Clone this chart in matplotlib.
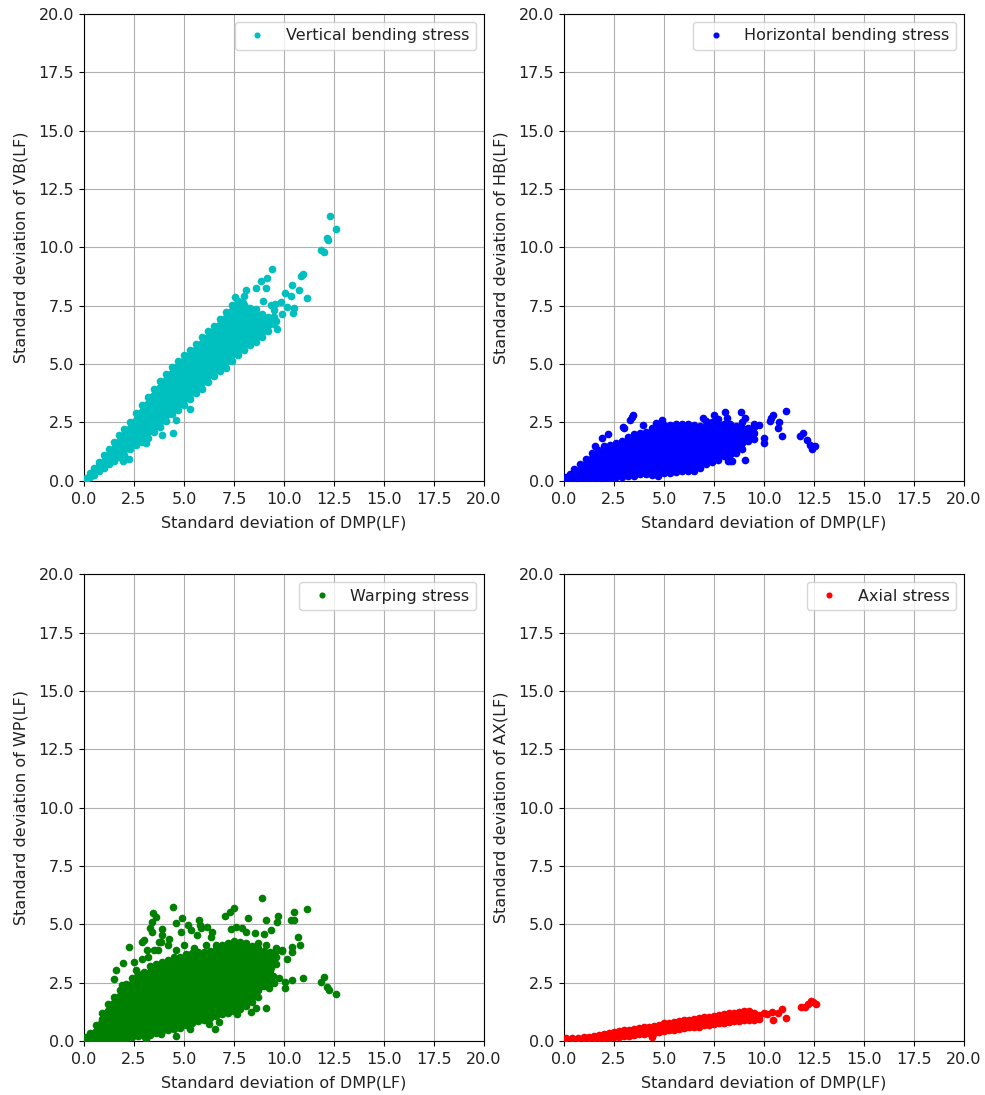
import matplotlib
matplotlib.use('Agg')
import matplotlib.pyplot as plt

plt.rcParams['font.size'] = 11.5
plt.rcParams['text.color'] = '#222222'
plt.rcParams['axes.labelcolor'] = '#222222'
plt.rcParams['xtick.labelcolor'] = '#222222'
plt.rcParams['ytick.labelcolor'] = '#222222'

# std deviations, one list of y values for each x column
vb_cols = [0.1, 0.3, 0.5, 0.75, 1.0, 1.25, 1.5, 1.75, 2.0, 2.3, 2.6, 2.9, 3.2, 3.5, 3.8, 4.1, 4.4, 4.7, 5.0, 5.3, 5.6, 5.9, 6.2, 6.5, 6.8, 7.1, 7.4, 7.7, 8.0, 8.3, 8.6, 8.9, 9.2, 9.5]
vb_rows = [[0.05, 0.12], [0.15, 0.32], [0.25, 0.55], [0.4, 0.65, 0.82], [0.55, 0.85, 1.1], [0.72, 1.0, 1.35], [0.85, 1.2, 1.68], [1.0, 1.35, 1.62, 1.95], [1.1, 1.4, 1.75, 2.22], [1.35, 1.7, 2.0, 2.5], [1.55, 1.85, 2.2, 2.55, 2.9], [1.65, 2.0, 2.4, 2.8, 3.25], [1.85, 2.2, 2.55, 2.95, 3.6], [2.1, 2.5, 2.85, 3.3, 3.68, 3.95], [2.3, 2.7, 3.1, 3.5, 3.85, 4.28], [2.55, 2.9, 3.3, 3.7, 4.1, 4.58], [2.85, 3.2, 3.55, 3.95, 4.3, 4.88], [3.05, 3.4, 3.8, 4.2, 4.6, 5.15], [3.25, 3.65, 4.0, 4.4, 4.8, 5.4], [3.5, 3.85, 4.25, 4.65, 5.05, 5.6], [3.75, 4.1, 4.5, 4.9, 5.3, 5.88], [3.95, 4.3, 4.7, 5.1, 5.55, 6.15], [4.25, 4.6, 5.0, 5.4, 5.85, 6.4], [4.5, 4.85, 5.25, 5.65, 6.05, 6.65], [4.7, 5.05, 5.45, 5.85, 6.3, 6.95], [4.85, 5.25, 5.65, 6.1, 6.6, 7.25], [5.15, 5.5, 5.9, 6.3, 6.8, 7.55], [5.4, 5.75, 6.15, 6.6, 7.05, 7.72], [5.6, 5.95, 6.3, 6.75, 7.2, 7.9], [5.8, 6.15, 6.5, 6.9, 7.4], [5.95, 6.3, 6.6, 7.0, 7.35], [6.15, 6.5, 6.85, 7.15], [6.4, 6.7, 7.0], [6.7, 7.0, 7.3]]
vb_extra_x = [1.97, 2.25, 3.1, 3.9, 4.45, 4.6, 5.3, 7.55, 8.08, 8.58, 8.83, 9.08, 9.17, 9.42, 8.95, 9.33, 9.55, 9.87, 10.05, 10.38, 10.75, 10.33, 11.13, 10.83, 10.95, 10.17, 10.5, 10.47, 9.92, 9.67, 9.58, 11.83, 12.0, 12.17, 12.18, 12.28, 12.58]
vb_extra_y = [0.83, 0.93, 1.6, 1.97, 2.04, 2.6, 3.09, 7.87, 8.19, 8.26, 8.57, 8.26, 8.69, 9.07, 7.69, 7.54, 7.58, 7.64, 8.04, 8.37, 8.19, 7.9, 7.83, 8.79, 8.87, 7.44, 7.4, 7.19, 7.16, 6.5, 6.83, 9.87, 9.8, 10.4, 10.3, 11.33, 10.79]

hb_cols = [0.1, 0.3, 0.5, 0.8, 1.1, 1.4, 1.7, 2.0, 2.3, 2.6, 2.9, 3.2, 3.5, 3.8, 4.1, 4.4, 4.7, 5.0, 5.3, 5.6, 5.9, 6.2, 6.5, 6.8, 7.1, 7.4, 7.7, 8.0, 8.3, 8.6, 8.9, 9.2, 9.5]
hb_rows = [[0.05, 0.15], [0.08, 0.3], [0.1, 0.35, 0.5], [0.1, 0.35, 0.7], [0.08, 0.35, 0.65, 0.95], [0.08, 0.35, 0.65, 0.95, 1.2], [0.1, 0.35, 0.65, 0.95, 1.3], [0.1, 0.4, 0.7, 1.0, 1.25, 1.5], [0.08, 0.35, 0.65, 0.95, 1.25, 1.55], [0.15, 0.4, 0.7, 1.0, 1.3, 1.6], [0.18, 0.45, 0.75, 1.05, 1.35, 1.72], [0.2, 0.45, 0.75, 1.05, 1.35, 1.65, 1.88], [0.2, 0.5, 0.8, 1.1, 1.4, 1.7, 2.0], [0.28, 0.55, 0.85, 1.15, 1.45, 1.75, 2.05], [0.3, 0.55, 0.85, 1.15, 1.45, 1.75, 2.1], [0.25, 0.55, 0.85, 1.15, 1.45, 1.75, 2.05, 2.25], [0.22, 0.5, 0.85, 1.15, 1.45, 1.75, 2.05, 2.35], [0.32, 0.6, 0.9, 1.2, 1.5, 1.8, 2.1, 2.38], [0.35, 0.62, 0.9, 1.2, 1.5, 1.8, 2.1, 2.4], [0.38, 0.65, 0.95, 1.25, 1.55, 1.85, 2.15, 2.42], [0.4, 0.7, 1.0, 1.3, 1.6, 1.9, 2.2, 2.42], [0.42, 0.72, 1.0, 1.3, 1.6, 1.9, 2.2, 2.45], [0.4, 0.72, 1.05, 1.35, 1.65, 1.95, 2.2, 2.4], [0.55, 0.85, 1.15, 1.45, 1.75, 2.05, 2.35], [0.72, 1.0, 1.3, 1.6, 1.9, 2.2, 2.55], [0.8, 1.1, 1.4, 1.7, 2.0, 2.3, 2.5], [0.9, 1.2, 1.5, 1.8, 2.1, 2.4, 2.65], [1.05, 1.3, 1.6, 1.9, 2.2, 2.45], [0.85, 1.25, 1.6, 1.9, 2.2, 2.45], [1.2, 1.5, 1.75, 2.05, 2.35], [1.35, 1.65, 1.95, 2.25, 2.5], [1.7, 2.0, 2.25], [1.8, 2.05, 2.3, 2.45]]
hb_extra_x = [1.55, 1.9, 2.2, 2.95, 3.3, 3.4, 3.47, 3.0, 3.95, 4.6, 4.88, 6.95, 7.5, 8.05, 8.15, 8.85, 9.05, 9.05, 8.2, 8.4, 9.75, 9.98, 10.0, 10.3, 10.45, 10.35, 10.75, 10.7, 10.9, 11.1, 11.8, 11.95, 12.15, 12.3, 12.4, 12.55]
hb_extra_y = [1.5, 1.85, 2.0, 2.3, 2.6, 2.72, 2.83, 2.28, 2.4, 2.47, 2.6, 2.7, 2.83, 2.93, 2.7, 2.93, 2.7, 0.9, 0.83, 0.85, 2.4, 1.85, 1.6, 2.55, 2.83, 2.7, 2.5, 2.25, 1.9, 3.0, 1.9, 2.04, 1.76, 1.54, 1.36, 1.5]

wp_cols = [0.1, 0.3, 0.6, 0.9, 1.2, 1.5, 1.8, 2.1, 2.4, 2.7, 3.0, 3.3, 3.6, 3.9, 4.2, 4.5, 4.8, 5.1, 5.4, 5.7, 6.0, 6.3, 6.6, 6.9, 7.2, 7.5, 7.8, 8.1, 8.4, 8.7, 9.0, 9.3, 9.6]
wp_rows = [[0.05, 0.15], [0.08, 0.35], [0.1, 0.4, 0.7], [0.08, 0.35, 0.65, 0.95, 1.2], [0.08, 0.35, 0.65, 0.95, 1.25, 1.6], [0.08, 0.35, 0.65, 0.95, 1.25, 1.55, 1.9], [0.08, 0.35, 0.65, 0.95, 1.25, 1.55, 1.85, 2.2], [0.1, 0.4, 0.7, 1.0, 1.3, 1.6, 1.9, 2.2, 2.45], [0.15, 0.45, 0.75, 1.05, 1.35, 1.65, 1.95, 2.25, 2.7], [0.2, 0.45, 0.75, 1.05, 1.35, 1.65, 1.95, 2.25, 2.55, 2.85], [0.2, 0.5, 0.8, 1.1, 1.4, 1.7, 2.0, 2.3, 2.6, 2.95], [0.25, 0.5, 0.8, 1.1, 1.4, 1.7, 2.0, 2.3, 2.6, 2.9, 3.2], [0.35, 0.6, 0.9, 1.2, 1.5, 1.8, 2.1, 2.4, 2.7, 3.0, 3.3], [0.42, 0.7, 1.0, 1.3, 1.6, 1.9, 2.2, 2.5, 2.8, 3.1, 3.4], [0.48, 0.75, 1.05, 1.35, 1.65, 1.95, 2.25, 2.55, 2.85, 3.15, 3.45], [0.5, 0.78, 1.1, 1.4, 1.7, 2.0, 2.3, 2.6, 2.9, 3.2, 3.58], [0.55, 0.85, 1.15, 1.45, 1.75, 2.05, 2.35, 2.65, 2.95, 3.25, 3.62], [0.7, 1.0, 1.3, 1.6, 1.9, 2.2, 2.5, 2.8, 3.1, 3.4, 3.72], [0.78, 1.05, 1.35, 1.65, 1.95, 2.25, 2.55, 2.85, 3.15, 3.45, 3.78], [0.85, 1.1, 1.4, 1.7, 2.0, 2.3, 2.6, 2.9, 3.2, 3.5, 3.8], [0.9, 1.15, 1.45, 1.75, 2.05, 2.35, 2.65, 2.95, 3.25, 3.55, 3.8], [1.0, 1.25, 1.55, 1.85, 2.15, 2.45, 2.75, 3.05, 3.35, 3.6, 3.85], [1.05, 1.3, 1.6, 1.9, 2.2, 2.5, 2.8, 3.1, 3.4, 3.7, 3.95], [1.15, 1.4, 1.7, 2.0, 2.3, 2.6, 2.9, 3.2, 3.5, 3.8, 4.1], [1.2, 1.45, 1.75, 2.05, 2.35, 2.65, 2.95, 3.25, 3.55, 3.85, 4.2], [1.3, 1.55, 1.85, 2.15, 2.45, 2.75, 3.05, 3.35, 3.65, 3.95, 4.3], [1.35, 1.65, 1.95, 2.3, 2.65, 3.0, 3.3, 3.6, 3.9, 4.25], [1.5, 1.8, 2.1, 2.45, 2.8, 3.05, 3.35, 3.65, 3.95, 4.2], [1.65, 1.9, 2.25, 2.6, 2.95, 3.2, 3.5, 3.8, 4.05], [1.9, 2.2, 2.55, 2.85, 3.15, 3.45, 3.75, 4.0], [2.35, 2.7, 2.95, 3.25, 3.55, 3.85], [2.5, 2.85, 3.25, 3.55, 3.8], [3.3, 3.6, 3.85]]
wp_extra_x = [4.45, 8.88, 11.13, 10.5, 7.5, 7.3, 7.03, 8.2, 9.08, 9.7, 9.63, 10.33, 10.5, 3.47, 3.58, 3.42, 3.3, 3.42, 4.62, 4.92, 5.75, 5.8, 5.2, 5.33, 4.83, 3.92, 3.92, 5.83, 6.17, 6.42, 5.67, 6.33, 7.33, 7.58, 7.92, 8.08, 8.55, 9.0, 9.33, 10.72, 10.8, 10.42, 10.42, 10.13, 9.92, 2.25, 2.92, 3.0, 3.83, 4.25, 1.97, 1.62, 1.5, 1.92, 2.5, 2.92, 2.58, 3.17, 3.5, 3.75, 12.0, 11.83, 12.17, 12.25, 12.58, 10.95, 10.38, 10.05, 10.03, 9.75, 9.47, 9.5, 9.25, 9.08, 8.58, 8.33, 7.67, 6.75, 6.53, 6.25, 5.3, 4.62, 3.87, 3.12, 8.33, 8.42, 8.25, 3.2, 3.7, 4.2, 4.6, 5.0, 5.5, 6.1, 6.6, 8.7, 9.1, 9.6, 9.9]
wp_extra_y = [5.75, 6.14, 5.64, 5.54, 5.69, 5.54, 5.36, 5.26, 5.19, 5.36, 5.11, 5.19, 5.19, 5.5, 5.3, 5.09, 4.86, 4.69, 5.07, 5.26, 5.19, 4.97, 4.97, 4.76, 4.69, 4.79, 4.54, 4.83, 4.9, 4.69, 4.54, 4.47, 4.79, 4.9, 4.83, 4.69, 4.61, 4.57, 4.76, 4.47, 4.11, 4.04, 3.83, 3.51, 3.9, 4.01, 4.26, 4.33, 4.26, 4.36, 3.33, 3.04, 2.64, 2.4, 3.4, 3.51, 3.04, 3.9, 3.9, 4.26, 2.76, 2.51, 2.33, 2.19, 2.01, 2.69, 2.61, 2.51, 2.29, 2.69, 2.79, 2.47, 2.26, 1.4, 1.4, 1.26, 1.14, 0.8, 0.5, 0.71, 0.5, 0.21, 0.3, 0.1, 2.19, 1.9, 1.7, 3.6, 3.9, 4.1, 3.9, 4.1, 4.0, 4.1, 4.1, 4.2, 4.1, 4.0, 3.85]

ax_cols = [0.1, 0.4, 0.7, 1.0, 1.25, 1.5, 1.75, 2.0, 2.25, 2.5, 2.75, 3.0, 3.25, 3.5, 3.75, 4.0, 4.25, 4.5, 4.75, 5.0, 5.25, 5.5, 5.75, 6.0, 6.25, 6.5, 6.75, 7.0, 7.25, 7.5, 7.75, 8.0, 8.25, 8.5, 8.75, 9.0, 9.25, 9.5, 9.75]
ax_rows = [[0.13], [0.13], [0.14], [0.13, 0.16], [0.12, 0.18], [0.12, 0.2], [0.12, 0.25], [0.12, 0.3], [0.14, 0.34], [0.17, 0.38], [0.18, 0.42], [0.2, 0.45], [0.23, 0.48], [0.26, 0.52], [0.28, 0.56], [0.3, 0.5, 0.6], [0.33, 0.5, 0.62], [0.35, 0.55, 0.65], [0.38, 0.58, 0.7], [0.42, 0.6, 0.76], [0.45, 0.62, 0.78], [0.48, 0.65, 0.82], [0.5, 0.68, 0.85], [0.55, 0.72, 0.88], [0.58, 0.75, 0.92], [0.6, 0.78, 0.95], [0.62, 0.8, 0.98], [0.68, 0.85, 1.02], [0.7, 0.87, 1.04], [0.72, 0.9, 1.06], [0.75, 0.92, 1.1], [0.78, 0.95, 1.15], [0.8, 1.0, 1.2], [0.85, 1.05, 1.22], [0.85, 1.05, 1.25], [0.88, 1.08, 1.28], [0.88, 1.1, 1.28], [0.88, 1.08, 1.22], [0.95, 1.1]]
ax_extra_x = [4.42, 11.08, 10.9, 10.47, 10.0, 10.4, 10.15, 10.7, 11.83, 12.03, 12.2, 12.33, 12.58, 12.45]
ax_extra_y = [0.19, 1.0, 1.36, 0.9, 1.19, 1.26, 1.15, 1.2, 1.44, 1.47, 1.59, 1.73, 1.59, 1.68]

panels = [
    (vb_cols, vb_rows, vb_extra_x, vb_extra_y, 'c', 'Vertical bending stress', 'Standard deviation of VB(LF)'),
    (hb_cols, hb_rows, hb_extra_x, hb_extra_y, 'b', 'Horizontal bending stress', 'Standard deviation of HB(LF)'),
    (wp_cols, wp_rows, wp_extra_x, wp_extra_y, 'g', 'Warping stress', 'Standard deviation of WP(LF)'),
    (ax_cols, ax_rows, ax_extra_x, ax_extra_y, 'r', 'Axial stress', 'Standard deviation of AX(LF)'),
]

fig, axes = plt.subplots(2, 2, figsize=(9.85, 10.95), dpi=100)
fig.subplots_adjust(left=84/985, right=964/985, top=1-14/1095, bottom=1-1041/1095, wspace=0.2, hspace=0.2)

for ax, (cols, rows, extra_x, extra_y, color, name, ylab) in zip(axes.flat, panels):
    x = list(extra_x)
    y = list(extra_y)
    for c, r in zip(cols, rows):
        x += [c]*len(r)
        y += r
    # the cloud is saturated in the middle, so close it between the column extremes
    ax.fill_between(cols, [min(r) for r in rows], [max(r) for r in rows], color=color, lw=0, zorder=3)
    ax.plot(x, y, '.', color=color, markersize=9, label=name, zorder=3)
    ax.set_xlim(0., 20.)
    ax.set_ylim(0., 20.)
    ax.set_xlabel('Standard deviation of DMP(LF)', labelpad=6)
    ax.set_ylabel(ylab, labelpad=7)
    ax.tick_params(axis='x', pad=4.5)
    ax.grid(True)
    ax.legend(loc='upper right', markerscale=0.75)

fig.savefig('out.png', dpi=100)
